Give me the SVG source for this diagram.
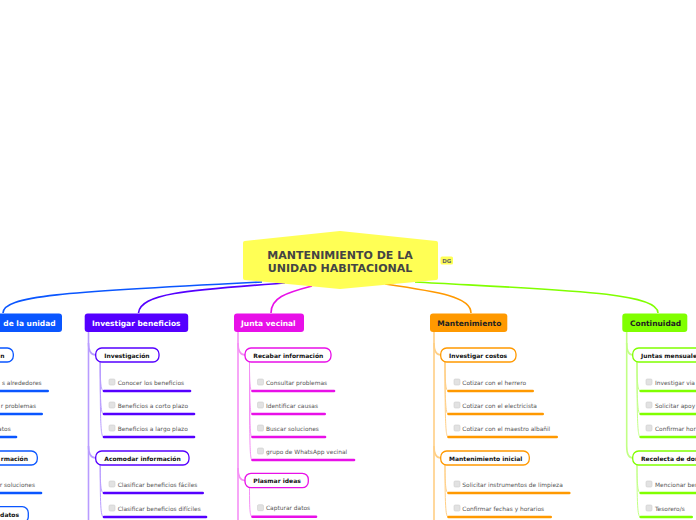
<svg xmlns="http://www.w3.org/2000/svg" width="696" height="520" viewBox="0 0 696 520">
<style>
.bg{fill:#ffffff}
.ml{font-family:"DejaVu Sans",Verdana,sans-serif;font-weight:bold;font-size:7.5px}
.sl{font-family:"DejaVu Sans",Verdana,sans-serif;font-weight:bold;font-size:6px;fill:#111}
.lt{font-family:"DejaVu Sans",Verdana,sans-serif;font-size:5.9px;fill:#555}
.cb{fill:#e2e2e2;stroke:#cfcfcf;stroke-width:0.6}
.sub{fill:#fff;stroke-width:1.3}
.ul{fill:none;stroke-width:2.6;stroke-linecap:round}
.cn{fill:none;stroke-width:1}
.tr{fill:none;stroke-width:1.6}
.w{fill:#fff}
.d{fill:#222}
</style>
<rect class="bg" x="0" y="0" width="696" height="520"/>

<g id="connectors">
  <!-- central to main -->
  <path d="M262,282 C60,292 3,296 3,313" fill="none" stroke="#0a56ff" stroke-width="1.6"/>
  <path d="M285,283 C190,290 140,293 138.5,313" fill="none" stroke="#5500ff" stroke-width="1.6"/>
  <path d="M312,286 C285,293 271,298 271,313" fill="none" stroke="#e810e8" stroke-width="1.6"/>
  <path d="M385,284 C440,292 471,297 471,313" fill="none" stroke="#ff9900" stroke-width="1.6"/>
  <path d="M415,282 C560,290 658,292 658,313" fill="none" stroke="#80ff00" stroke-width="1.6"/>

  <!-- purple trunk -->
  <g stroke="#b89cff">
    <path class="tr" d="M88.5,332 V520"/>
    <path class="tr" d="M88.5,343 Q88.5,355 95.7,355"/>
    <path class="tr" d="M88.5,446 Q88.5,458 95.7,458"/>
    <path class="cn" d="M100.2,362 C100.2,385 101,391 104,391"/>
    <path class="cn" d="M100.2,362 C100.2,408 101,414 104,414"/>
    <path class="cn" d="M100.2,362 C100.2,431 101,437 104,437"/>
    <path class="cn" d="M100.2,465 C100.2,487 101,493 104,493"/>
    <path class="cn" d="M100.2,465 C100.2,511 101,517 104,517"/>
  </g>
  <!-- magenta trunk -->
  <g stroke="#f590f5">
    <path class="tr" d="M238,332 V520"/>
    <path class="tr" d="M238,343 Q238,355 245,355"/>
    <path class="tr" d="M238,468 Q238,480.5 245,480.5"/>
    <path class="cn" d="M249.5,362 C249.5,385 250,391 252.5,391"/>
    <path class="cn" d="M249.5,362 C249.5,408 250,414 252.5,414"/>
    <path class="cn" d="M249.5,362 C249.5,431 250,437 252.5,437"/>
    <path class="cn" d="M249.5,362 C249.5,454 250,460 252.5,460"/>
    <path class="cn" d="M249.5,487.7 C249.5,511 250,516.7 252.5,516.7"/>
  </g>
  <!-- orange trunk -->
  <g stroke="#ffcf85">
    <path class="tr" d="M434,332 V520"/>
    <path class="tr" d="M434,343 Q434,355 440.7,355"/>
    <path class="tr" d="M434,446 Q434,458 440.7,458"/>
    <path class="cn" d="M445,362 C445,385 446,391 448.5,391"/>
    <path class="cn" d="M445,362 C445,408 446,414 448.5,414"/>
    <path class="cn" d="M445,362 C445,431 446,437 448.5,437"/>
    <path class="cn" d="M445,465 C445,487 446,493 448.5,493"/>
    <path class="cn" d="M445,465 C445,511 446,517 448.5,517"/>
  </g>
  <!-- green trunk -->
  <g stroke="#c2ff85">
    <path class="tr" d="M626.7,332 V446 Q626.7,458 632.7,458"/>
    <path class="tr" d="M626.7,343 Q626.7,355 632.7,355"/>
    <path class="cn" d="M637,362 C637,385 638,391 640.7,391"/>
    <path class="cn" d="M637,362 C637,408 638,414 640.7,414"/>
    <path class="cn" d="M637,362 C637,431 638,437 640.7,437"/>
    <path class="cn" d="M637,465 C637,487 638,493 640.7,493"/>
    <path class="cn" d="M637,465 C637,511 638,517 640.7,517"/>
  </g>
</g>

<g id="center">
  <path d="M245,243 L340,233 L436,243 L436,278 L340,287 L245,278 Z" fill="#ffff55" stroke="#ffff55" stroke-width="4" stroke-linejoin="round"/>
  <text x="340" y="258.5" text-anchor="middle" font-family="'DejaVu Sans',Verdana,sans-serif" font-weight="bold" font-size="11" fill="#444">MANTENIMIENTO DE LA</text>
  <text x="340" y="272" text-anchor="middle" font-family="'DejaVu Sans',Verdana,sans-serif" font-weight="bold" font-size="11" fill="#444">UNIDAD HABITACIONAL</text>
</g>
<g id="dg">
  <rect x="440.5" y="256.5" width="12.5" height="8" rx="1.5" fill="#ffff55"/>
  <text x="446.7" y="262.8" text-anchor="middle" font-family="'DejaVu Sans',Verdana,sans-serif" font-weight="bold" font-size="5.5" fill="#666">DG</text>
</g>

<!-- Blue column (partially off-canvas) -->
<g id="blue">
  <rect x="-50" y="313.5" width="112" height="18.5" rx="3" fill="#0a56ff"/>
  <text class="ml w" x="3.3" y="326">de la unidad</text>
</g>
<g id="blue-s1">
  <rect class="sub" x="-50" y="348" width="63.3" height="14" rx="6" stroke="#0a56ff"/>
  <text class="sl" x="4.5" y="357.5" text-anchor="end">n</text>
</g>
<g id="blue-l1"><path class="ul" d="M-5,391 H47.7" stroke="#0a56ff"/><text class="lt" x="41.7" y="384.5" text-anchor="end">s alrededores</text></g>
<g id="blue-l2"><path class="ul" d="M-5,414 H41.7" stroke="#0a56ff"/><text class="lt" x="36" y="407.5" text-anchor="end">r problemas</text></g>
<g id="blue-l3"><path class="ul" d="M-5,437 H16" stroke="#0a56ff"/><text class="lt" x="10.7" y="430.5" text-anchor="end">atos</text></g>
<g id="blue-s2">
  <rect class="sub" x="-60" y="451" width="97.3" height="14" rx="6" stroke="#0a56ff"/>
  <text class="sl" x="28" y="460.5" text-anchor="end">rmación</text>
</g>
<g id="blue-l4"><path class="ul" d="M-5,493 H41" stroke="#0a56ff"/><text class="lt" x="35" y="486.5" text-anchor="end">r soluciones</text></g>
<g id="blue-s3">
  <rect class="sub" x="-50" y="506.7" width="78.3" height="16" rx="6" stroke="#0a56ff"/>
  <text class="sl" x="19" y="516.5" text-anchor="end">datos</text>
</g>

<!-- Purple column -->
<g id="purple">
  <rect x="84.7" y="313.5" width="103.5" height="18.5" rx="3" fill="#5500ff"/>
  <text class="ml w" x="92" y="326">Investigar beneficios</text>
</g>
<g id="purple-s1">
  <rect class="sub" x="95.7" y="348" width="63.3" height="14" rx="6" stroke="#5500ff"/>
  <text class="sl" x="104.3" y="357.5">Investigación</text>
</g>
<g id="purple-l1"><path class="ul" d="M104,391 H190" stroke="#5500ff"/><rect class="cb" x="109" y="379" width="6" height="6" rx="1.2"/><text class="lt" x="117.7" y="384.5">Conocer los beneficios</text></g>
<g id="purple-l2"><path class="ul" d="M104,414 H194" stroke="#5500ff"/><rect class="cb" x="109" y="402" width="6" height="6" rx="1.2"/><text class="lt" x="117.7" y="407.5">Beneficios a corto plazo</text></g>
<g id="purple-l3"><path class="ul" d="M104,437 H194" stroke="#5500ff"/><rect class="cb" x="109" y="425" width="6" height="6" rx="1.2"/><text class="lt" x="117.7" y="430.5">Beneficios a largo plazo</text></g>
<g id="purple-s2">
  <rect class="sub" x="95.7" y="451" width="93.3" height="14" rx="6" stroke="#5500ff"/>
  <text class="sl" x="104.3" y="460.5">Acomodar información</text>
</g>
<g id="purple-l4"><path class="ul" d="M104,493 H202.7" stroke="#5500ff"/><rect class="cb" x="109" y="481" width="6" height="6" rx="1.2"/><text class="lt" x="117.7" y="486.5">Clasificar beneficios fáciles</text></g>
<g id="purple-l5"><path class="ul" d="M104,517 H206" stroke="#5500ff"/><rect class="cb" x="109" y="505" width="6" height="6" rx="1.2"/><text class="lt" x="117.7" y="510.5">Clasificar beneficios difíciles</text></g>

<!-- Magenta column -->
<g id="magenta">
  <rect x="234" y="313.5" width="70" height="18.5" rx="3" fill="#e810e8"/>
  <text class="ml w" x="241" y="326">Junta vecinal</text>
</g>
<g id="magenta-s1">
  <rect class="sub" x="245" y="348" width="86" height="14" rx="6" stroke="#e810e8"/>
  <text class="sl" x="253.3" y="357.5">Recabar información</text>
</g>
<g id="magenta-l1"><path class="ul" d="M252.5,391 H334" stroke="#e810e8"/><rect class="cb" x="257.5" y="379" width="6" height="6" rx="1.2"/><text class="lt" x="266" y="384.5">Consultar problemas</text></g>
<g id="magenta-l2"><path class="ul" d="M252.5,414 H324.7" stroke="#e810e8"/><rect class="cb" x="257.5" y="402" width="6" height="6" rx="1.2"/><text class="lt" x="266" y="407.5">Identificar causas</text></g>
<g id="magenta-l3"><path class="ul" d="M252.5,437 H325" stroke="#e810e8"/><rect class="cb" x="257.5" y="425" width="6" height="6" rx="1.2"/><text class="lt" x="266" y="430.5">Buscar soluciones</text></g>
<g id="magenta-l4"><path class="ul" d="M252.5,460 H354" stroke="#e810e8"/><rect class="cb" x="257.5" y="448" width="6" height="6" rx="1.2"/><text class="lt" x="266" y="453.5">grupo de WhatsApp vecinal</text></g>
<g id="magenta-s2">
  <rect class="sub" x="245" y="473.3" width="63.3" height="14.4" rx="6" stroke="#e810e8"/>
  <text class="sl" x="253.3" y="483">Plasmar ideas</text>
</g>
<g id="magenta-l5"><path class="ul" d="M252.5,516.7 H316" stroke="#e810e8"/><rect class="cb" x="257.5" y="504.7" width="6" height="6" rx="1.2"/><text class="lt" x="266" y="510.2">Capturar datos</text></g>

<!-- Orange column -->
<g id="orange">
  <rect x="430" y="313.5" width="77.3" height="18.5" rx="3" fill="#ff9900"/>
  <text class="ml d" x="437.3" y="326">Mantenimiento</text>
</g>
<g id="orange-s1">
  <rect class="sub" x="440.7" y="348" width="75.3" height="14" rx="6" stroke="#ff9900"/>
  <text class="sl" x="449" y="357.5">Investigar costos</text>
</g>
<g id="orange-l1"><path class="ul" d="M448.5,391 H532.7" stroke="#ff9900"/><rect class="cb" x="454" y="379" width="6" height="6" rx="1.2"/><text class="lt" x="462.3" y="384.5">Cotizar con el herrero</text></g>
<g id="orange-l2"><path class="ul" d="M448.5,414 H542.7" stroke="#ff9900"/><rect class="cb" x="454" y="402" width="6" height="6" rx="1.2"/><text class="lt" x="462.3" y="407.5">Cotizar con el electricista</text></g>
<g id="orange-l3"><path class="ul" d="M448.5,437 H556.7" stroke="#ff9900"/><rect class="cb" x="454" y="425" width="6" height="6" rx="1.2"/><text class="lt" x="462.3" y="430.5">Cotizar con el maestro albañil</text></g>
<g id="orange-s2">
  <rect class="sub" x="440.7" y="451" width="88.6" height="14" rx="6" stroke="#ff9900"/>
  <text class="sl" x="449" y="460.5">Mantenimiento inicial</text>
</g>
<g id="orange-l4"><path class="ul" d="M448.5,493 H569.3" stroke="#ff9900"/><rect class="cb" x="454" y="481" width="6" height="6" rx="1.2"/><text class="lt" x="462.3" y="486.5">Solicitar instrumentos de limpieza</text></g>
<g id="orange-l5"><path class="ul" d="M448.5,517 H550.7" stroke="#ff9900"/><rect class="cb" x="454" y="505" width="6" height="6" rx="1.2"/><text class="lt" x="462.3" y="510.5">Confirmar fechas y horarios</text></g>

<!-- Green column -->
<g id="green">
  <rect x="622.3" y="313.5" width="65" height="18.5" rx="3" fill="#80ff00"/>
  <text class="ml d" x="630" y="326">Continuidad</text>
</g>
<g id="green-s1">
  <rect class="sub" x="632.7" y="348" width="90" height="14" rx="6" stroke="#80ff00"/>
  <text class="sl" x="641" y="357.5">Juntas mensuale</text>
</g>
<g id="green-l1"><path class="ul" d="M640.7,391 H705" stroke="#80ff00"/><rect class="cb" x="646" y="379" width="6" height="6" rx="1.2"/><text class="lt" x="655" y="384.5">Investigar via</text></g>
<g id="green-l2"><path class="ul" d="M640.7,414 H705" stroke="#80ff00"/><rect class="cb" x="646" y="402" width="6" height="6" rx="1.2"/><text class="lt" x="655" y="407.5">Solicitar apoy</text></g>
<g id="green-l3"><path class="ul" d="M640.7,437 H705" stroke="#80ff00"/><rect class="cb" x="646" y="425" width="6" height="6" rx="1.2"/><text class="lt" x="655" y="430.5">Confirmar hor</text></g>
<g id="green-s2">
  <rect class="sub" x="632.7" y="451" width="90" height="14" rx="6" stroke="#80ff00"/>
  <text class="sl" x="641" y="460.5">Recolecta de don</text>
</g>
<g id="green-l4"><path class="ul" d="M640.7,493 H705" stroke="#80ff00"/><rect class="cb" x="646" y="481" width="6" height="6" rx="1.2"/><text class="lt" x="655" y="486.5">Mencionar ben</text></g>
<g id="green-l5"><path class="ul" d="M640.7,517 H691.7" stroke="#80ff00"/><rect class="cb" x="646" y="505" width="6" height="6" rx="1.2"/><text class="lt" x="655" y="510.5">Tesorero/s</text></g>
</svg>
